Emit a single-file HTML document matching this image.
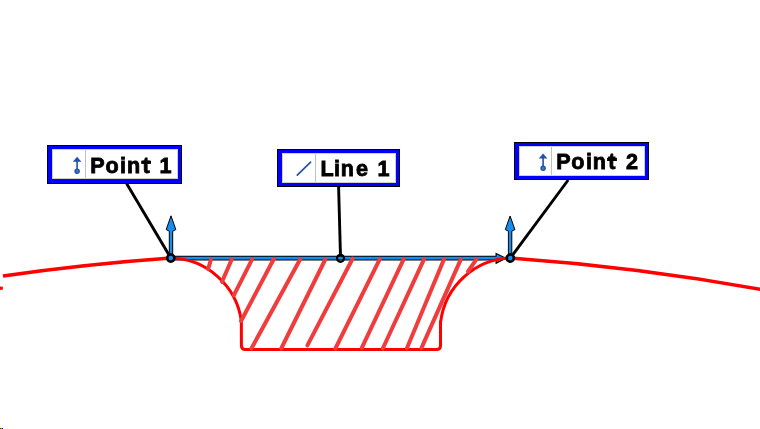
<!DOCTYPE html><html><head><meta charset="utf-8"><style>html,body{margin:0;padding:0;background:#fff;width:760px;height:429px;overflow:hidden}svg{display:block;will-change:transform}</style></head><body><svg width="760" height="429" viewBox="0 0 760 429"><path d="M3 276.04 A2381.0 2381.0 0 0 1 170.8 258.06" stroke="#ff0000" stroke-width="3.5" fill="none"/><path d="M510.3 258.06 A2381.0 2381.0 0 0 1 765 290.15" stroke="#ff0000" stroke-width="3.5" fill="none"/><rect x="0" y="286.6" width="2.8" height="3.2" fill="#ff0000"/><line x1="170.8" y1="258.2" x2="500" y2="258.2" stroke="#000" stroke-width="4.8"/><path d="M496.1 253.4 L506 258.2 L496.1 263.3 Z" fill="#148cf0" stroke="#000" stroke-width="1.1" stroke-linejoin="miter"/><line x1="170.8" y1="258.2" x2="497" y2="258.2" stroke="#148cf0" stroke-width="2.8"/><path d="M170.8 258.1 A72.8 72.8 0 0 1 241.35 321 L241.4 345.4 Q241.4 349.4 245.4 349.4 L436.5 349.4 Q440.5 349.4 440.5 345.4 L440.5 321 L440.75 321 A72.8 72.8 0 0 1 510.3 258.1" stroke="#ff0000" stroke-width="3.0" fill="none" stroke-linejoin="round"/><g stroke="#f03c3c" stroke-width="4" stroke-linecap="round"><line x1="211" y1="259.5" x2="208.1" y2="269.1"/><line x1="231.8" y1="259.3" x2="222" y2="281.8"/><line x1="252.1" y1="259.3" x2="233.8" y2="295.3"/><line x1="273.9" y1="258.8" x2="241.1" y2="321"/><line x1="300.2" y1="259.2" x2="251.4" y2="348.5"/><line x1="325.3" y1="259.5" x2="281.2" y2="348.5"/><line x1="352.7" y1="258.5" x2="307.4" y2="345.4"/><line x1="379.9" y1="258.8" x2="335.4" y2="348.5"/><line x1="403.8" y1="258.8" x2="361.8" y2="347.9"/><line x1="424.2" y1="258.8" x2="382.8" y2="348.5"/><line x1="444" y1="259.3" x2="407" y2="347.9"/><line x1="460.7" y1="259.6" x2="421.5" y2="347.9"/><line x1="476.4" y1="259.3" x2="468" y2="271.5"/></g><g stroke="#000" stroke-width="2.9" stroke-linecap="butt"><line x1="126.6" y1="183.5" x2="170.8" y2="258.1"/><line x1="338.6" y1="187" x2="340.45" y2="254.7"/><line x1="568.2" y1="180" x2="510.3" y2="258.1"/></g><path d="M169.3 254 L169.3 231.1 L166.2 229.6 L171 215.8 L175.8 229.6 L172.7 231.1 L172.7 254 Z" fill="#148cf0" stroke="#000" stroke-width="1" stroke-linejoin="miter"/><path d="M508.4 254 L508.4 231.1 L505.3 229.6 L510.1 216 L514.9 229.6 L511.8 231.1 L511.8 254 Z" fill="#148cf0" stroke="#000" stroke-width="1" stroke-linejoin="miter"/><circle cx="170.8" cy="258.1" r="3.6" fill="#148cf0" stroke="#000" stroke-width="2.6"/><circle cx="340.5" cy="258.3" r="3.5" fill="none" stroke="#000" stroke-width="2.2"/><circle cx="510.3" cy="258.1" r="3.6" fill="#148cf0" stroke="#000" stroke-width="2.6"/><g font-family="'Liberation Sans', sans-serif" font-weight="bold" font-size="21.6"><rect x="47" y="145" width="135" height="39" fill="#000"/><rect x="48" y="146" width="133" height="37" fill="#0000ff"/><rect x="52" y="149" width="126" height="30" fill="#d4d0c8"/><rect x="53" y="150" width="124" height="28" fill="#fff"/><rect x="85" y="150" width="1" height="28" fill="#c0c0c0"/><path d="M72.8 161.7 L77.1 156.7 L81.4 161.7 Z" fill="#1f52a8"/><line x1="77.1" y1="160.7" x2="77.1" y2="169.2" stroke="#1f52a8" stroke-width="1.6"/><circle cx="77.1" cy="171.3" r="2.0" fill="#4a78c8" stroke="#1f52a8" stroke-width="1.5"/><text x="90.24 105.39 120.07 126.95 142.41 150 159.48" y="172.8" fill="#000" stroke="#000" stroke-width="0.8">Point 1</text><rect x="277" y="149" width="123" height="38" fill="#000"/><rect x="278" y="150" width="121" height="36" fill="#0000ff"/><rect x="282" y="153" width="114" height="30" fill="#d4d0c8"/><rect x="283" y="154" width="112" height="28" fill="#fff"/><rect x="315" y="154" width="1" height="28" fill="#c0c0c0"/><line x1="297.3" y1="175.2" x2="310.6" y2="162.1" stroke="#1f52a8" stroke-width="1.7" stroke-linecap="round"/><text x="320.42 333.97 340.85 356.05 370 377.48" y="176.3" fill="#000" stroke="#000" stroke-width="0.8">Line 1</text><rect x="514" y="142" width="135" height="38" fill="#000"/><rect x="515" y="143" width="133" height="36" fill="#0000ff"/><rect x="519" y="146" width="126" height="30" fill="#d4d0c8"/><rect x="520" y="147" width="124" height="28" fill="#fff"/><rect x="551" y="147" width="1" height="28" fill="#c0c0c0"/><path d="M538.8 158.6 L543.1 153.6 L547.4 158.6 Z" fill="#1f52a8"/><line x1="543.1" y1="157.6" x2="543.1" y2="166.1" stroke="#1f52a8" stroke-width="1.6"/><circle cx="543.1" cy="168.2" r="2.0" fill="#4a78c8" stroke="#1f52a8" stroke-width="1.5"/><text x="556.34 571.34 585.97 592.8 608.36 615 625.88" y="169.2" fill="#000" stroke="#000" stroke-width="0.8">Point 2</text></g><rect x="141.2" y="160.7" width="9.8" height="3.2" fill="#000"/><rect x="607.1" y="157.8" width="9.8" height="3.2" fill="#000"/><rect x="0" y="428" width="1" height="1" fill="#f00"/><rect x="1" y="428" width="1" height="1" fill="#0c0"/><rect x="2" y="428" width="1" height="1" fill="#00f"/></svg></body></html>
